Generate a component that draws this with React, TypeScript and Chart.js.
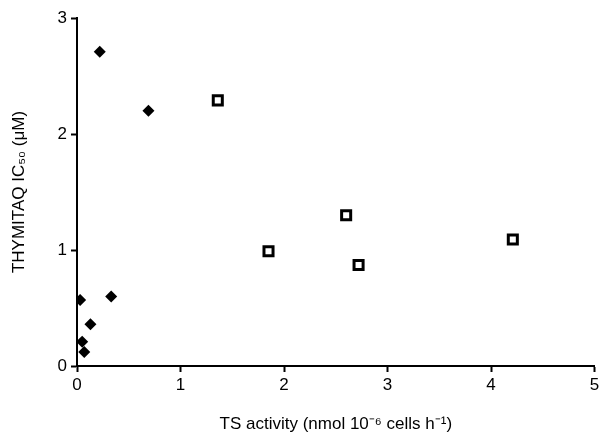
import React, { useEffect, useRef } from "react";
import { Chart, registerables } from "chart.js";

Chart.register(...registerables);

const diamondX = [0.22, 0.69, 0.03, 0.33, 0.13, 0.05, 0.07];
const diamondY = [2.71, 2.2, 0.57, 0.6, 0.36, 0.21, 0.12];
const squareX = [1.36, 2.6, 1.85, 2.72, 4.21];
const squareY = [2.29, 1.3, 0.99, 0.87, 1.09];
const xTicks = [0, 1, 2, 3, 4, 5];
const yTicks = [0, 1, 2, 3];
const xTitle = "TS activity (nmol 10\u207B\u2076 cells h\u207B\u00B9)";
const yTitle = "THYMITAQ IC\u2085\u2080 (\u03BCM)";

const FONT = "'Liberation Sans', Arial, Helvetica, sans-serif";

export default function App() {
  const ref = useRef<HTMLCanvasElement | null>(null);
  useEffect(() => {
    if (!ref.current) return;
    const chart = new Chart(ref.current, {
      type: "scatter",
      data: {
        datasets: [
          {
            label: "diamonds",
            data: diamondX.map((x, i) => ({ x, y: diamondY[i] })),
            pointStyle: "rectRot",
            pointRadius: 6,
            backgroundColor: "#000",
            borderColor: "#000",
            borderWidth: 0,
          },
          {
            label: "squares",
            data: squareX.map((x, i) => ({ x, y: squareY[i] })),
            pointStyle: "rect",
            pointRadius: 6.4,
            backgroundColor: "#fff",
            borderColor: "#000",
            borderWidth: 3,
          },
        ],
      },
      options: {
        animation: false,
        responsive: false,
        maintainAspectRatio: false,
        layout: { padding: { top: 18, right: 6, left: 0, bottom: 0 } },
        plugins: { legend: { display: false }, tooltip: { enabled: false } },
        scales: {
          x: {
            type: "linear",
            min: 0,
            max: 5,
            afterBuildTicks: (s: any) => {
              s.ticks = xTicks.map((v) => ({ value: v }));
            },
            afterFit: (s: any) => {
              s.height = 74;
              s.paddingRight = 0;
              s.paddingLeft = 0;
            },
            grid: { drawOnChartArea: false, tickLength: 6, tickColor: "#000", tickWidth: 2 },
            border: { color: "#000", width: 2 },
            ticks: { color: "#000", font: { family: FONT, size: 17 }, padding: 3, maxRotation: 0 },
            title: {
              display: true,
              text: xTitle,
              color: "#000",
              font: { family: FONT, size: 17 },
              padding: { top: 0, bottom: 5 },
            },
          },
          y: {
            type: "linear",
            min: 0,
            max: 3,
            afterBuildTicks: (s: any) => {
              s.ticks = yTicks.map((v) => ({ value: v }));
            },
            afterFit: (s: any) => {
              s.width = 77;
              s.paddingTop = 0;
              s.paddingBottom = 0;
            },
            grid: { drawOnChartArea: false, tickLength: 6, tickColor: "#000", tickWidth: 2 },
            border: { color: "#000", width: 2 },
            ticks: { color: "#000", font: { family: FONT, size: 17 }, padding: 4 },
            title: {
              display: true,
              text: yTitle,
              color: "#000",
              font: { family: FONT, size: 17 },
              padding: { top: 9, bottom: 0 },
            },
          },
        },
      },
    });
    return () => chart.destroy();
  }, []);
  return (
    <div style={{ position: "absolute", left: 0, top: 0, width: 604, height: 440, background: "#fff" }}>
      <canvas ref={ref} width={604} height={440} style={{ width: 604, height: 440 }} />
    </div>
  );
}
